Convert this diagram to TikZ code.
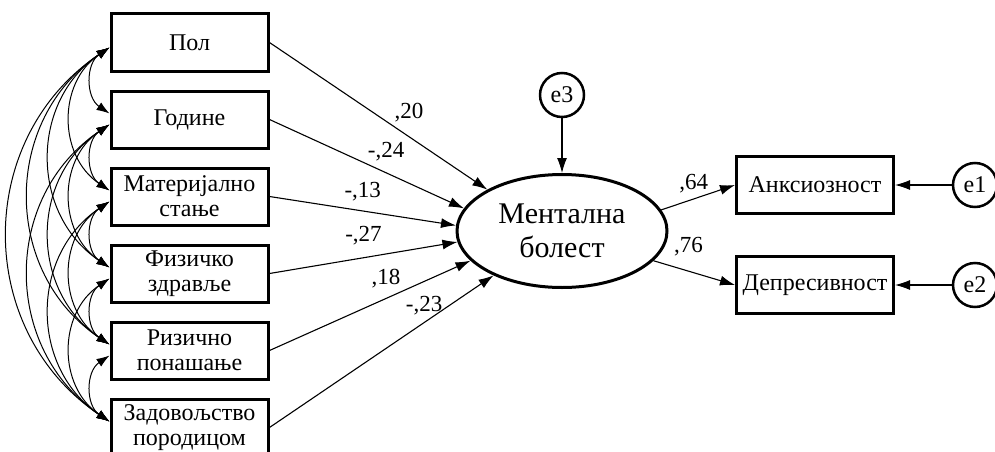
\documentclass[tikz,border=0pt]{standalone}
\usepackage{fontspec}
\setmainfont{Liberation Serif}
\usetikzlibrary{shapes.geometric,arrows.meta}

\begin{document}
\begin{tikzpicture}[x=1pt, y=1pt, node distance=77pt,
  obs/.style={draw, rectangle, line width=3pt, minimum width=157pt, minimum height=57pt, inner sep=1pt, align=center, font=\fontsize{24}{25}\selectfont},
  err/.style={draw, circle, line width=2.5pt, minimum size=44pt, inner sep=0pt, font=\fontsize{24}{25}\selectfont},
  coef/.style={font=\fontsize{23}{24}\selectfont, inner sep=1pt},
  reg/.style={->, >={Latex[length=15pt,width=10pt]}, line width=1.1pt},
  cov/.style={<->, >={Latex[length=13pt,width=9pt]}, line width=1pt}]
\useasboundingbox (0,0) rectangle (995,-452);

\node [obs] (pol) at (189.5,-42.5) {Пол};
\node [obs, below of=pol] (god) {Године};
\node [obs, below of=god] (mat) {Материјално\\стање};
\node [obs, below of=mat] (fiz) {Физичко\\здравље};
\node [obs, below of=fiz] (riz) {Ризично\\понашање};
\node [obs, below of=riz] (zad) {Задовољство\\породицом};

\node [ellipse, draw, line width=3pt, minimum width=210pt, minimum height=113pt, inner sep=0pt, align=center, font=\fontsize{30}{34}\selectfont] (mb) at (562,-231) {Ментална\\болест};
\node [err, above of=mb, yshift=59pt] (e3) {e3};

\node [obs] (ank) at (815,-185) {Анксиозност};
\node [obs, below of=ank, yshift=-23pt] (dep) {Депресивност};
\node [err, right of=ank, xshift=83pt] (e1) {e1};
\node [err, right of=dep, xshift=83pt] (e2) {e2};

\draw [reg] (pol.east) -- node [coef, pos=.64, above=13pt] {,20} (mb.151);
\draw [reg] (god.east) -- node [coef, pos=.6, above=10pt] {-,24} (mb.167);
\draw [reg] (mat.east) -- node [coef, pos=.5, above=8pt] {-,13} (mb.177);
\draw [reg] (fiz.east) -- node [coef, pos=.5, above=11pt] {-,27} (mb.186);
\draw [reg] (riz.east) -- node [coef, pos=.58, above=9pt] {,18} (mb.198);
\draw [reg] (zad.east) -- node [coef, pos=.69, above=6pt] {-,23} (mb.213);

\draw [reg] (e3) -- (mb);
\draw [reg] (mb.12) -- node [coef, pos=.44, above=4pt] {,64} (ank.west);
\draw [reg] (mb.-18) -- node [coef, pos=.43, above=14pt] {,76} (dep.west);
\draw [reg] (e1) -- (ank);
\draw [reg] (e2) -- (dep);

\foreach \a/\b in {pol/god,pol/mat,pol/fiz,pol/riz,pol/zad,god/mat,god/fiz,god/riz,god/zad,mat/fiz,mat/riz,mat/zad,fiz/riz,fiz/zad,riz/zad}
  \draw [cov] ([yshift=-5pt]\a.west) to [out=214, in=146, looseness=1.12] ([yshift=6pt]\b.west);
\end{tikzpicture}
\end{document}
